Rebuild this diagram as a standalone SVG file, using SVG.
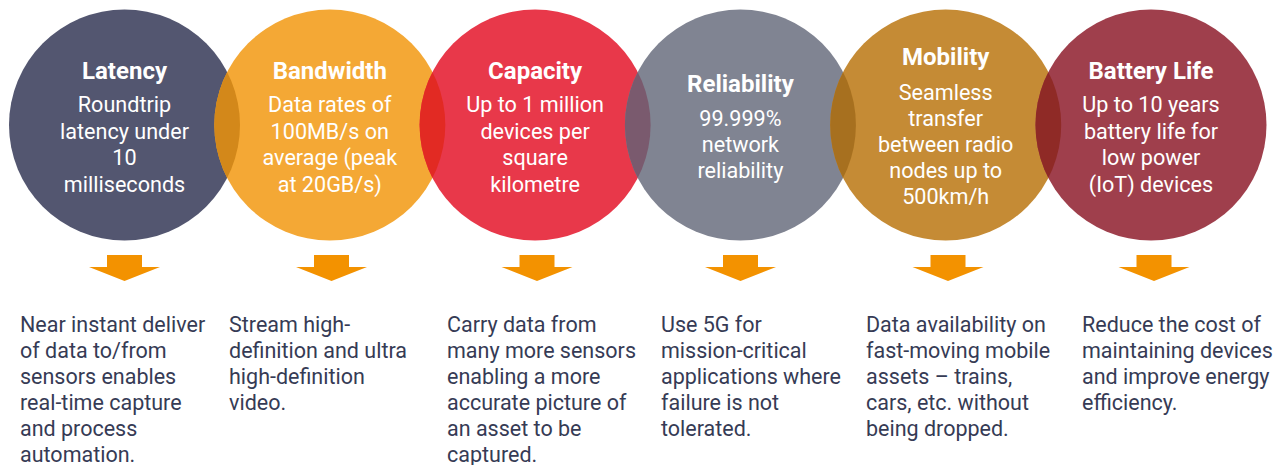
<svg xmlns="http://www.w3.org/2000/svg" width="1276" height="465" viewBox="0 0 1276 465">
  <style>
    .title { font-family: Roboto, "Liberation Sans", sans-serif; font-weight: 700; font-size: 24px; fill: #ffffff; text-anchor: middle; }
    .body { font-family: Roboto, "Liberation Sans", sans-serif; font-weight: 400; font-size: 21.6px; fill: #ffffff; text-anchor: middle; }
    .desc { font-family: Roboto, "Liberation Sans", sans-serif; font-weight: 400; font-size: 21.5px; fill: #363b55; }
    .arrow { fill: #f39200; }
  </style>
  <defs>
    <clipPath id="clip1"><circle cx="124.5" cy="125" r="115.5"/></clipPath>
    <clipPath id="clip2"><circle cx="329.8" cy="125" r="115.5"/></clipPath>
    <clipPath id="clip3"><circle cx="535.1" cy="125" r="115.5"/></clipPath>
    <clipPath id="clip4"><circle cx="740.4" cy="125" r="115.5"/></clipPath>
    <clipPath id="clip5"><circle cx="945.7" cy="125" r="115.5"/></clipPath>
    <path id="arr" d="M -17.5 0 H 17.5 V 12 H 35.5 L 0 26 L -35.5 12 H -17.5 Z"/>
  </defs>

  <g id="node-latency">
    <circle cx="124.5" cy="125" r="115.5" fill="#535670"/>
    <text class="title" x="124.5" y="79">Latency</text>
    <text class="body" x="124.5" y="112">Roundtrip</text>
    <text class="body" x="124.5" y="138.5">latency under</text>
    <text class="body" x="124.5" y="165">10</text>
    <text class="body" x="124.5" y="191.5">milliseconds</text>
  </g>

  <g id="node-bandwidth">
    <circle cx="329.8" cy="125" r="115.5" fill="#f4a835"/>
    <circle cx="329.8" cy="125" r="115.5" fill="#d3881a" clip-path="url(#clip1)"/>
    <text class="title" x="329.8" y="79">Bandwidth</text>
    <text class="body" x="329.8" y="112">Data rates of</text>
    <text class="body" x="329.8" y="138.5">100MB/s on</text>
    <text class="body" x="329.8" y="165">average (peak</text>
    <text class="body" x="329.8" y="191.5">at 20GB/s)</text>
  </g>

  <g id="node-capacity">
    <circle cx="535.1" cy="125" r="115.5" fill="#e8384a"/>
    <circle cx="535.1" cy="125" r="115.5" fill="#e22a23" clip-path="url(#clip2)"/>
    <text class="title" x="535.1" y="79">Capacity</text>
    <text class="body" x="535.1" y="112">Up to 1 million</text>
    <text class="body" x="535.1" y="138.5">devices per</text>
    <text class="body" x="535.1" y="165">square</text>
    <text class="body" x="535.1" y="191.5">kilometre</text>
  </g>

  <g id="node-reliability">
    <circle cx="740.4" cy="125" r="115.5" fill="#808492"/>
    <circle cx="740.4" cy="125" r="115.5" fill="#7a5a6e" clip-path="url(#clip3)"/>
    <text class="title" x="740.4" y="92">Reliability</text>
    <text class="body" x="740.4" y="126">99.999%</text>
    <text class="body" x="740.4" y="152">network</text>
    <text class="body" x="740.4" y="178">reliability</text>
  </g>

  <g id="node-mobility">
    <circle cx="945.7" cy="125" r="115.5" fill="#c58b35"/>
    <circle cx="945.7" cy="125" r="115.5" fill="#a7701f" clip-path="url(#clip4)"/>
    <text class="title" x="945.7" y="65">Mobility</text>
    <text class="body" x="945.7" y="100">Seamless</text>
    <text class="body" x="945.7" y="126">transfer</text>
    <text class="body" x="945.7" y="152">between radio</text>
    <text class="body" x="945.7" y="178">nodes up to</text>
    <text class="body" x="945.7" y="204">500km/h</text>
  </g>

  <g id="node-battery">
    <circle cx="1151" cy="125" r="115.5" fill="#9f3f4c"/>
    <circle cx="1151" cy="125" r="115.5" fill="#8f2a26" clip-path="url(#clip5)"/>
    <text class="title" x="1151" y="79">Battery Life</text>
    <text class="body" x="1151" y="112">Up to 10 years</text>
    <text class="body" x="1151" y="138.5">battery life for</text>
    <text class="body" x="1151" y="165">low power</text>
    <text class="body" x="1151" y="191.5">(IoT) devices</text>
  </g>

  <g id="connectors">
    <use href="#arr" class="arrow" x="124.5" y="255"/>
    <use href="#arr" class="arrow" x="331.5" y="255"/>
    <use href="#arr" class="arrow" x="537" y="255"/>
    <use href="#arr" class="arrow" x="740.5" y="255"/>
    <use href="#arr" class="arrow" x="948" y="255"/>
    <use href="#arr" class="arrow" x="1154" y="255"/>
  </g>

  <g id="desc-latency">
    <text class="desc" x="20" y="332">Near instant deliver</text>
    <text class="desc" x="20" y="358">of data to/from</text>
    <text class="desc" x="20" y="384">sensors enables</text>
    <text class="desc" x="20" y="410">real-time capture</text>
    <text class="desc" x="20" y="436">and process</text>
    <text class="desc" x="20" y="462">automation.</text>
  </g>
  <g id="desc-bandwidth">
    <text class="desc" x="229" y="332">Stream high-</text>
    <text class="desc" x="229" y="358">definition and ultra</text>
    <text class="desc" x="229" y="384">high-definition</text>
    <text class="desc" x="229" y="410">video.</text>
  </g>
  <g id="desc-capacity">
    <text class="desc" x="447" y="332">Carry data from</text>
    <text class="desc" x="447" y="358">many more sensors</text>
    <text class="desc" x="447" y="384">enabling a more</text>
    <text class="desc" x="447" y="410">accurate picture of</text>
    <text class="desc" x="447" y="436">an asset to be</text>
    <text class="desc" x="447" y="462">captured.</text>
  </g>
  <g id="desc-reliability">
    <text class="desc" x="661" y="332">Use 5G for</text>
    <text class="desc" x="661" y="358">mission-critical</text>
    <text class="desc" x="661" y="384">applications where</text>
    <text class="desc" x="661" y="410">failure is not</text>
    <text class="desc" x="661" y="436">tolerated.</text>
  </g>
  <g id="desc-mobility">
    <text class="desc" x="866" y="332">Data availability on</text>
    <text class="desc" x="866" y="358">fast-moving mobile</text>
    <text class="desc" x="866" y="384">assets – trains,</text>
    <text class="desc" x="866" y="410">cars, etc. without</text>
    <text class="desc" x="866" y="436">being dropped.</text>
  </g>
  <g id="desc-battery">
    <text class="desc" x="1082" y="332">Reduce the cost of</text>
    <text class="desc" x="1082" y="358">maintaining devices</text>
    <text class="desc" x="1082" y="384">and improve energy</text>
    <text class="desc" x="1082" y="410">efficiency.</text>
  </g>
</svg>
